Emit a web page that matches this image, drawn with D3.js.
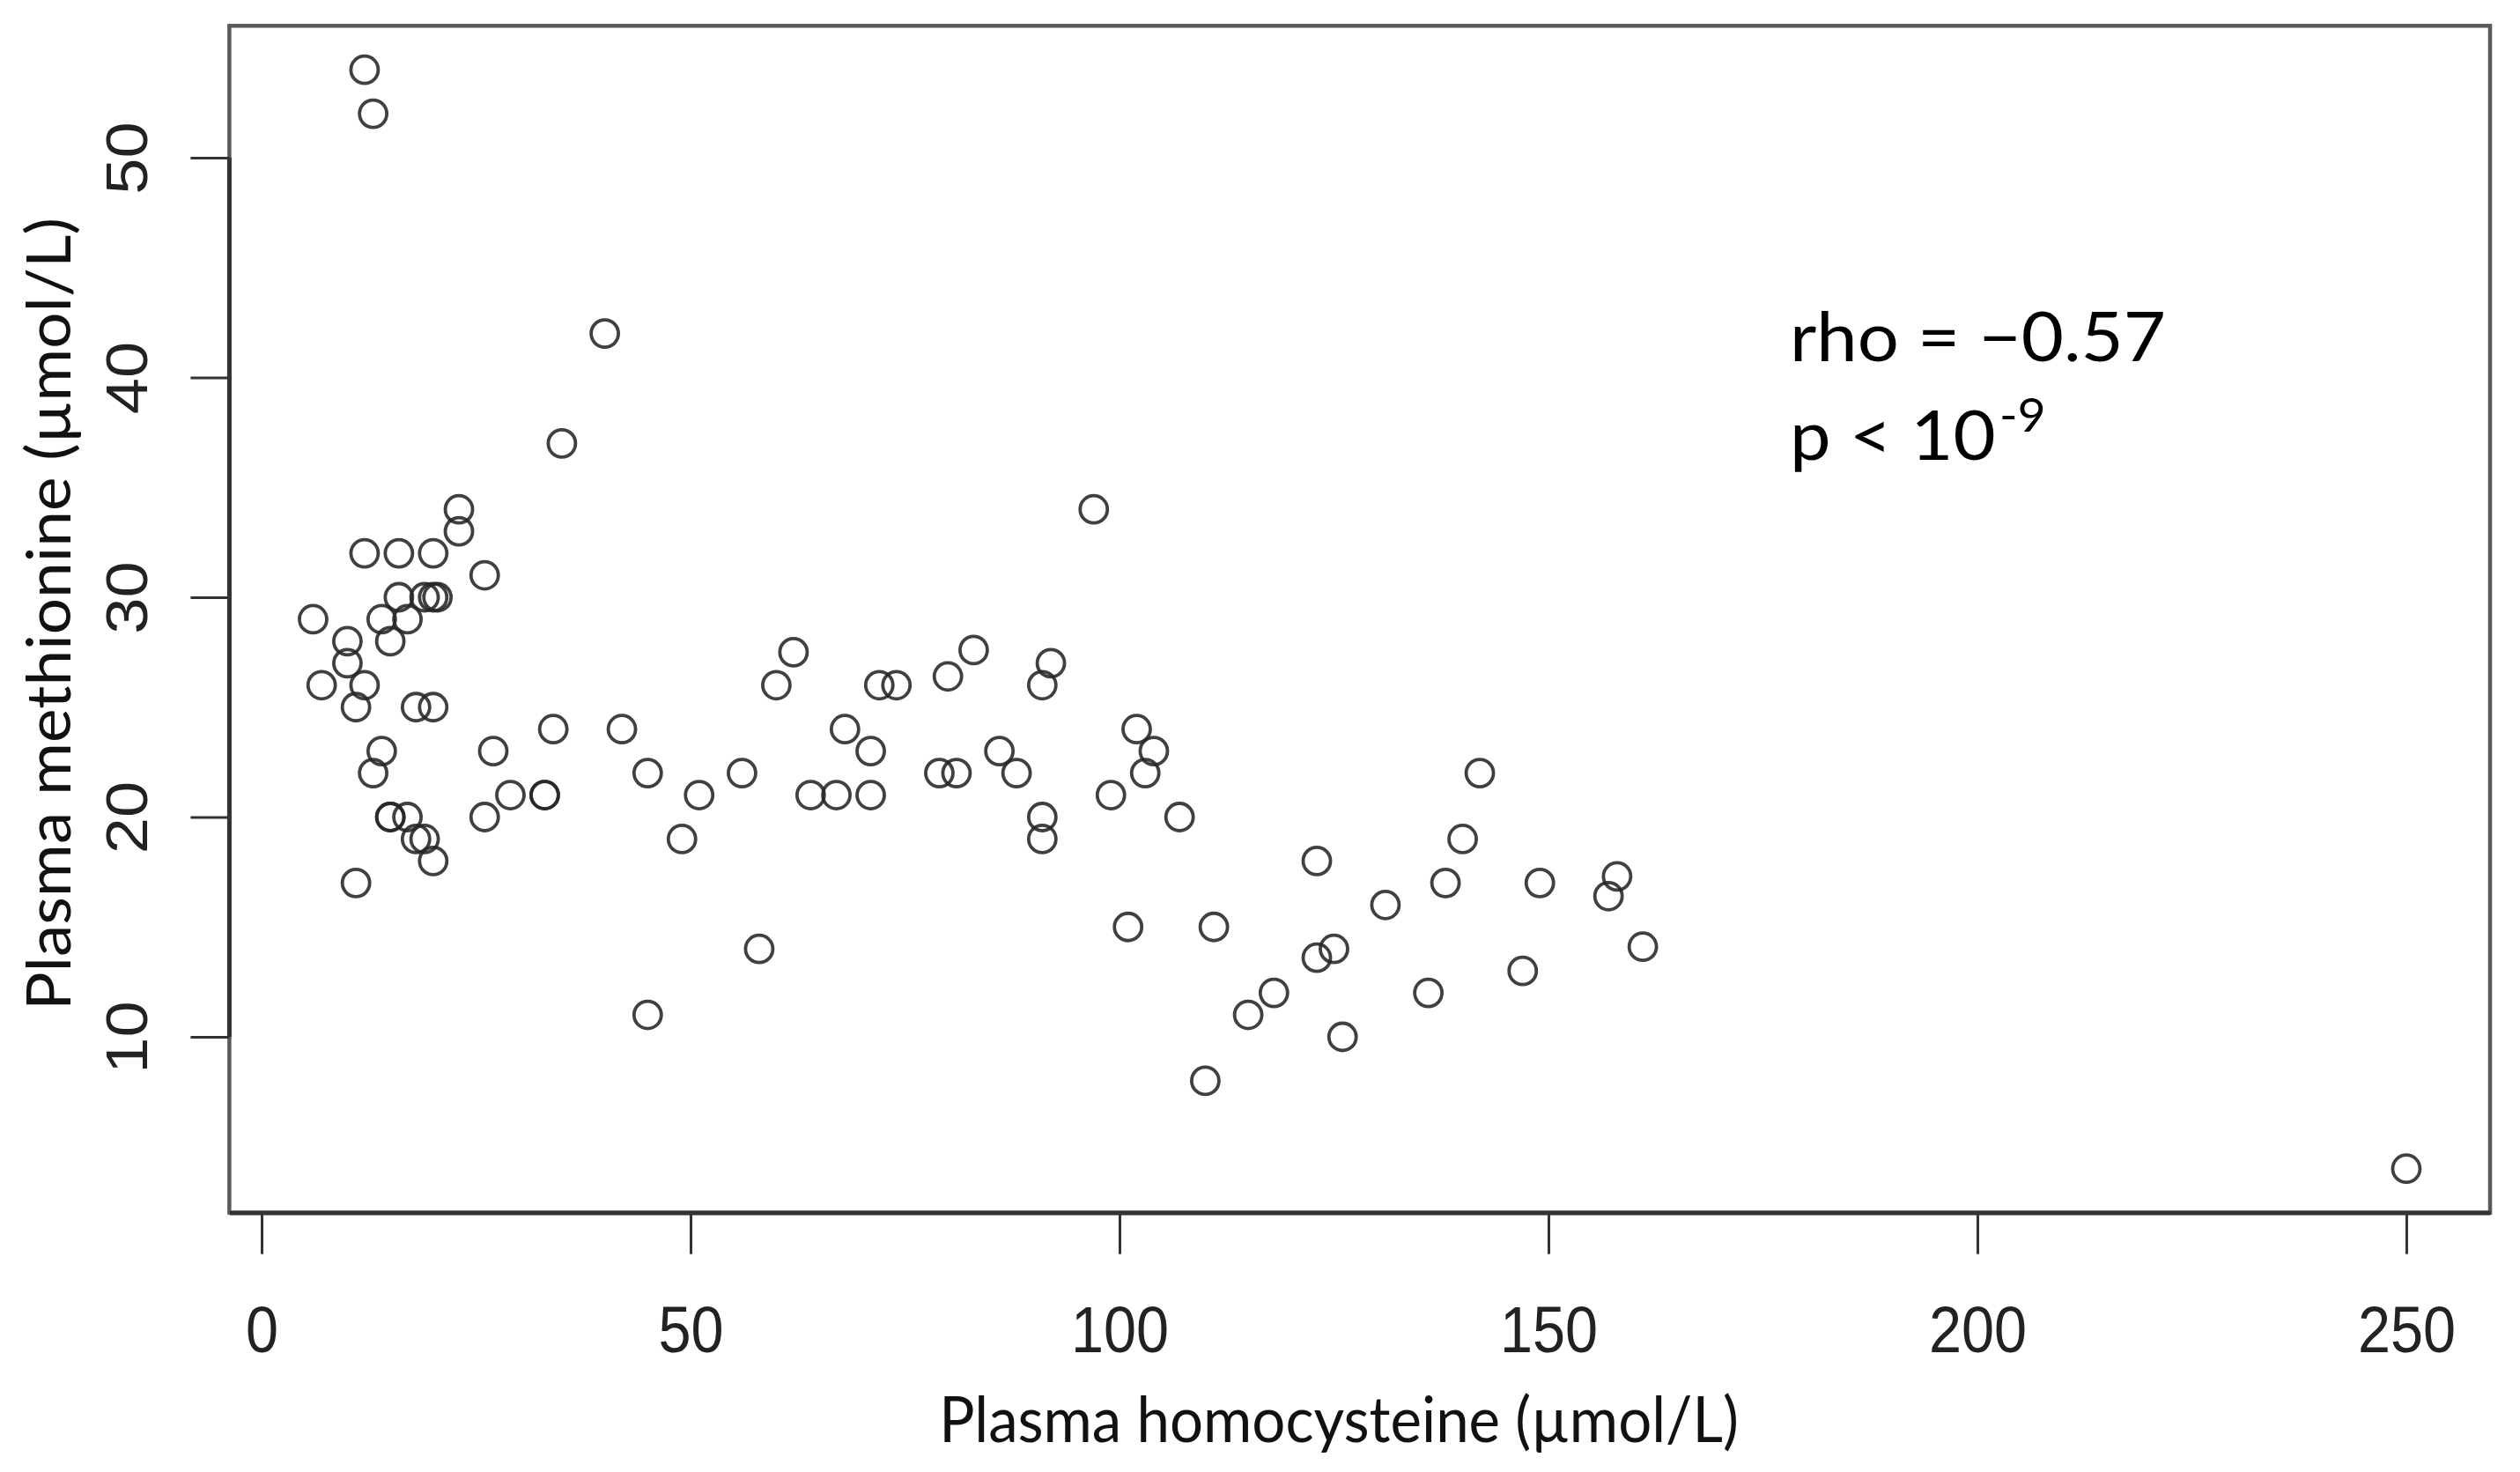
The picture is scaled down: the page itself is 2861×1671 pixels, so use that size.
<!DOCTYPE html>
<html>
<head>
<meta charset="utf-8">
<script src="https://cdn.jsdelivr.net/npm/d3@7"></script>
<style>
  html, body { margin: 0; padding: 0; background: #ffffff; }
  svg { display: block; }
</style>
</head>
<body>
<svg id="chart" width="2861" height="1671"></svg>
<script>
// ---- data ----
const homocysteine = [
  6, 7, 10, 10, 11, 11, 12, 13, 12, 12,
  13, 14, 14, 15, 15, 15, 16, 16, 17, 17,
  18, 18, 19, 19, 20, 20.5, 20, 20, 20, 23,
  23, 26, 26, 27, 29, 33, 33, 34, 35, 40,
  42, 45, 45, 49, 51, 56, 58, 60, 62, 64,
  67, 68, 71, 71, 72, 74, 79, 80, 81, 83,
  86, 88, 91, 92, 91, 91, 97, 99, 101, 102,
  103, 104, 107, 110, 111, 115, 118, 123, 123, 125,
  126, 131, 136, 138, 140, 142, 147, 149, 157, 158,
  161, 250
];
const methionine = [
  29, 26, 28, 27, 25, 17, 54, 52, 32, 26,
  22, 23, 29, 28, 20, 20, 32, 30, 29, 20,
  25, 19, 19, 30, 30, 30, 32, 25, 18, 34,
  33, 31, 20, 23, 21, 21, 21, 24, 37, 42,
  24, 22, 11, 19, 21, 22, 14, 26, 27.5, 21,
  21, 24, 21, 23, 26, 26, 22, 26.4, 22, 27.6,
  23, 22, 26, 27, 20, 19, 34, 21, 15, 24,
  22, 23, 20, 8, 15, 11, 12, 18, 13.6, 14,
  10, 16, 12, 17, 19, 22, 13, 17, 16.4, 17.3,
  14.1, 4
];
const xTickValues = [0, 50, 100, 150, 200, 250];
const yTickValues = [10, 20, 30, 40, 50];
const xTitle = "Plasma homocysteine (µmol/L)";
const yTitle = "Plasma methionine (µmol/L)";
const rhoLabel = "rho = \u22120.57";
const pLabel = "p < 10";
const pExponent = "-9";

// ---- layout ----
const svg = d3.select("#chart");
const W = 2861, H = 1671;
svg.append("rect").attr("width", W).attr("height", H).attr("fill", "#ffffff");

// R-style 4% padded domains
const x = d3.scaleLinear().domain([-3.76, 259.76]).range([260.4, 2827]);
const y = d3.scaleLinear().domain([2, 56]).range([1376.6, 29.3]);

const [xl, xr] = x.range();
const [yb, yt] = y.range();

const tickFont = "'Liberation Sans', Arial, sans-serif";
const titleFont = "Lato, 'Open Sans', sans-serif";

// plot box
svg.append("rect")
  .attr("x", xl).attr("y", yt)
  .attr("width", xr - xl).attr("height", yb - yt)
  .attr("fill", "none")
  .attr("stroke", "#5a5a5a")
  .attr("stroke-width", 4.5);

// x axis
const xAxis = d3.axisBottom(x).tickValues(xTickValues).tickSize(47).tickSizeOuter(0).tickPadding(0);
const gx = svg.append("g").attr("transform", `translate(0,${yb})`).call(xAxis);
gx.select(".domain").attr("stroke", "#333").attr("stroke-width", 5);
gx.selectAll(".tick line").attr("stroke", "#333").attr("stroke-width", 3);
gx.selectAll(".tick text")
  .attr("y", 158).attr("dy", 0)
  .attr("transform", "scale(0.9,1)")
  .attr("font-family", tickFont)
  .attr("font-size", 74)
  .attr("fill", "#222");

// y axis
const yAxis = d3.axisLeft(y).tickValues(yTickValues).tickSize(44).tickSizeOuter(0).tickPadding(0);
const gy = svg.append("g").attr("transform", `translate(${xl},0)`).call(yAxis);
gy.select(".domain").remove();
gy.selectAll(".tick line").attr("stroke", "#333").attr("stroke-width", 3);
gy.selectAll(".tick text")
  .attr("x", 0).attr("dy", 0)
  .attr("text-anchor", "middle")
  .attr("transform", `translate(${167 - xl},0) scale(0.9,1) rotate(-90)`)
  .attr("font-family", tickFont)
  .attr("font-size", 74)
  .attr("fill", "#222");
// y axis line spanning first to last tick
svg.append("line")
  .attr("x1", xl).attr("x2", xl)
  .attr("y1", y(yTickValues[0])).attr("y2", y(yTickValues[yTickValues.length - 1]))
  .attr("stroke", "#333").attr("stroke-width", 5);

// points
const pts = homocysteine.map((h, i) => ({ h, m: methionine[i] }));
svg.append("g")
  .selectAll("circle")
  .data(pts)
  .join("circle")
  .attr("cx", d => x(d.h))
  .attr("cy", d => y(d.m))
  .attr("r", 15.5)
  .attr("fill", "none")
  .attr("stroke", "#262626")
  .attr("stroke-opacity", 0.88)
  .attr("stroke-width", 3.8);

// helper: fit text to a target width along its own direction
function fitWidth(sel, target) {
  const len = sel.node().getComputedTextLength();
  return len > 0 ? target / len : 1;
}

// x title
const xt = svg.append("text")
  .attr("text-anchor", "middle")
  .attr("font-family", titleFont)
  .attr("font-size", 72)
  .attr("fill", "#111")
  .text(xTitle);
const kx = fitWidth(xt, 908);
xt.attr("transform", `translate(1520,1637) scale(${kx},1)`);

// y title
const yt2 = svg.append("text")
  .attr("text-anchor", "middle")
  .attr("font-family", titleFont)
  .attr("font-size", 70)
  .attr("fill", "#111")
  .text(yTitle);
const ky = fitWidth(yt2, 900);
yt2.attr("transform", `translate(80,697) scale(1,${ky}) rotate(-90)`);

// annotation
const a1 = svg.append("text")
  .attr("font-family", titleFont)
  .attr("font-size", 78)
  .attr("fill", "#000")
  .text(rhoLabel);
const ka = fitWidth(a1, 427);
a1.attr("transform", `translate(2032,410) scale(${ka},1)`);

const a2 = svg.append("text")
  .attr("font-family", titleFont)
  .attr("font-size", 78)
  .attr("fill", "#000")
  .attr("transform", `translate(2032,522) scale(${ka},1)`);
a2.append("tspan").text(pLabel);
a2.append("tspan")
  .attr("font-size", 52)
  .attr("dx", 4)
  .attr("dy", -32)
  .text(pExponent);
</script>
</body>
</html>
